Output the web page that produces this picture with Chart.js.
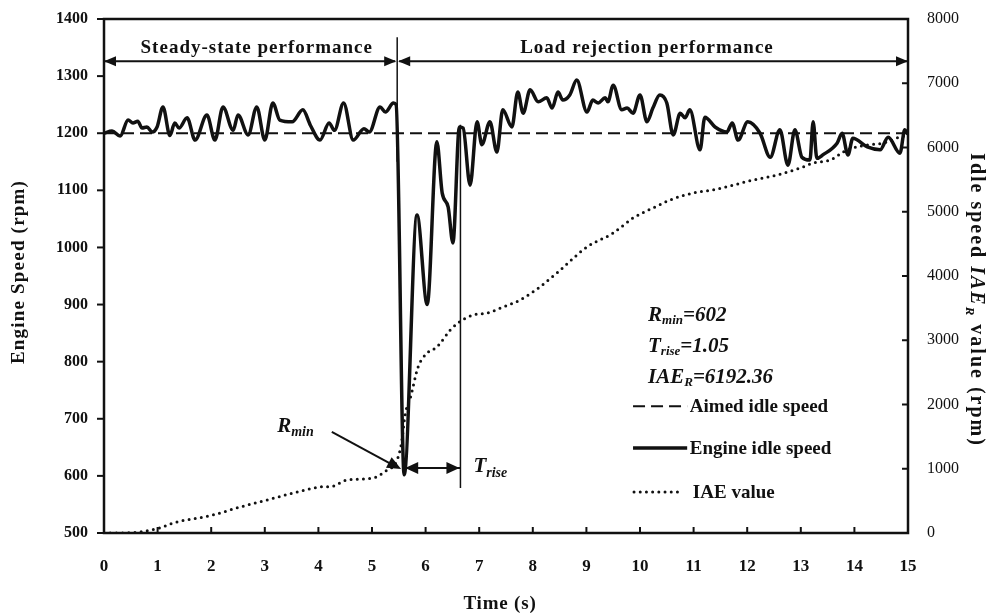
<!DOCTYPE html>
<html>
<head>
<meta charset="utf-8">
<script src="https://cdn.jsdelivr.net/npm/chart.js@4.4.1/dist/chart.umd.min.js"></script>
<style>
  html, body { margin: 0; padding: 0; background: #fff; }
</style>
</head>
<body>
<canvas id="chart" width="996" height="616"></canvas>
<script>
// engine idle speed (rpm) over time (s)
const engineTime = [0, 0.15, 0.3, 0.45, 0.54, 0.63, 0.71, 0.8, 0.9, 0.99, 1.1, 1.23, 1.32, 1.4, 1.55, 1.7, 1.92, 2.07, 2.22, 2.41, 2.5, 2.69, 2.85, 3.0, 3.15, 3.28, 3.51, 3.71, 3.85, 4.03, 4.2, 4.3, 4.47, 4.65, 4.85, 4.95, 5.15, 5.25, 5.4, 5.45,
  5.6, 5.84, 6.03, 6.21, 6.31, 6.42, 6.51, 6.63, 6.7, 6.83, 6.96, 7.05, 7.2, 7.33, 7.44, 7.61, 7.72, 7.82, 7.95, 8.1, 8.26, 8.36, 8.47, 8.56, 8.69, 8.82, 9.01, 9.12, 9.22, 9.35, 9.4, 9.5, 9.66, 9.76, 9.87, 10.0,
  10.13, 10.24, 10.37, 10.5, 10.62, 10.75, 10.84, 10.93, 11.12, 11.21, 11.4, 11.62, 11.72, 11.83, 12.01, 12.24, 12.43, 12.61, 12.76, 12.89, 13.02, 13.17, 13.23, 13.3, 13.41, 13.68, 13.77, 13.88, 13.97, 14.24, 14.48, 14.63, 14.85, 14.94, 15.0]
const engineRpm = [1200, 1204, 1195, 1223, 1218, 1221, 1209, 1211, 1202, 1211, 1246, 1196, 1218, 1209, 1227, 1188, 1232, 1188, 1246, 1205, 1232, 1197, 1246, 1188, 1253, 1223, 1220, 1241, 1214, 1188, 1218, 1205, 1253, 1188, 1208, 1202, 1246, 1237, 1253, 1250,
  602, 1057, 900, 1185, 1095, 1071, 1008, 1211, 1209, 1109, 1220, 1180, 1220, 1167, 1241, 1211, 1272, 1235, 1276, 1255, 1262, 1244, 1272, 1258, 1267, 1293, 1237, 1258, 1253, 1262, 1255, 1284, 1241, 1244, 1235, 1267,
  1220, 1244, 1267, 1253, 1197, 1235, 1227, 1241, 1171, 1228, 1211, 1202, 1218, 1188, 1220, 1200, 1158, 1206, 1144, 1206, 1158, 1153, 1220, 1156, 1162, 1183, 1200, 1162, 1191, 1176, 1171, 1193, 1165, 1206, 1198]

// aimed idle speed
const aimedTime = [0, 15]
const aimedRpm = [1200, 1200]

// accumulated IAE value (right axis)
const iaeTime = [0, 0.35, 1.04, 1.29, 2.03, 2.54, 3.04, 3.53, 4.03, 4.27, 4.53, 5.02, 5.28, 5.45, 5.55, 5.62, 5.72, 5.86, 6.03, 6.21, 6.46, 6.6, 6.88, 7.15, 7.44, 7.76, 8.13, 8.45,
  9.01, 9.5, 9.87, 10.24, 10.56, 10.99, 11.36, 11.74, 12.11, 12.56, 12.99, 13.23, 13.55, 13.86, 14.24, 14.54, 14.85, 15]
const iaeValue = [0, 0, 78, 156, 280, 405, 514, 623, 716, 730, 825, 856, 980, 1100, 1400, 1850, 2117, 2584, 2802, 2895, 3160, 3268, 3393, 3424, 3517, 3626, 3829, 4047,
  4451, 4669, 4903, 5058, 5183, 5292, 5339, 5416, 5494, 5572, 5681, 5759, 5805, 5961, 6039, 6070, 6163, 6192.36]

// summary figures
const rMin = 602
const tRise = 1.05
const iaeR = 6192.36
const rMinTime = 5.6
const splitTime = 5.47

const ink = '#111'
const serif = '"Liberation Serif", "Times New Roman", serif'

const pts = (xs, ys) => xs.map((x, i) => ({ x: x, y: ys[i] }))

function line(ctx, x1, y1, x2, y2) {
  ctx.beginPath()
  ctx.moveTo(x1, y1)
  ctx.lineTo(x2, y2)
  ctx.stroke()
}

function head(ctx, x, y, ang, len, hw) {
  ctx.save()
  ctx.translate(x, y)
  ctx.rotate(ang)
  ctx.beginPath()
  ctx.moveTo(0, 0)
  ctx.lineTo(-len, -hw)
  ctx.lineTo(-len, hw)
  ctx.closePath()
  ctx.fill()
  ctx.restore()
}

// draws runs of text with their own fonts / baseline shifts
function rich(ctx, x, y, parts, align) {
  let w = 0
  parts.forEach(p => { ctx.font = p[1]; w += ctx.measureText(p[0]).width })
  let cx = align === 'center' ? x - w / 2 : x
  parts.forEach(p => {
    ctx.font = p[1]
    ctx.fillText(p[0], cx, y + (p[2] || 0))
    cx += ctx.measureText(p[0]).width
  })
}

const B = 'bold 19px ' + serif
const BI = 'italic bold 21px ' + serif
const BIs = 'italic bold 13px ' + serif

const decor = {
  id: 'decor',
  afterDatasetsDraw(chart) {
    const { ctx, chartArea: a, scales } = chart
    const X = v => scales.x.getPixelForValue(v)
    const Y = v => scales.y.getPixelForValue(v)
    const Y2 = v => scales.y2.getPixelForValue(v)
    ctx.save()
    ctx.strokeStyle = ink
    ctx.fillStyle = ink
    ctx.lineCap = 'butt'

    // frame
    ctx.lineWidth = 2.5
    ctx.strokeRect(a.left, a.top, a.right - a.left, a.bottom - a.top)

    // tick marks
    ctx.lineWidth = 2
    for (let v = 500; v <= 1400; v += 100) line(ctx, a.left - 7, Y(v), a.left, Y(v))
    for (let t = 1; t < 15; t++) line(ctx, X(t), a.bottom, X(t), a.bottom - 6)
    for (let v = 1000; v < 8000; v += 1000) line(ctx, a.right - 6, Y2(v), a.right, Y2(v))

    // section banner
    const by = Y(1326)
    ctx.lineWidth = 2
    line(ctx, a.left, by, X(splitTime) - 2, by)
    line(ctx, X(splitTime) + 2, by, a.right, by)
    head(ctx, a.left, by, Math.PI, 12, 5)
    head(ctx, X(splitTime) - 1, by, 0, 12, 5)
    head(ctx, X(splitTime) + 1, by, Math.PI, 12, 5)
    head(ctx, a.right, by, 0, 12, 5)
    ctx.lineWidth = 1.5
    line(ctx, X(splitTime), Y(1368), X(splitTime), Y(1150))
    ctx.textAlign = 'left'
    ctx.textBaseline = 'alphabetic'
    ctx.letterSpacing = '1px'
    rich(ctx, X(2.85), by - 8, [['Steady-state performance', B]], 'center')
    rich(ctx, X(10.13), by - 8, [['Load rejection performance', B]], 'center')
    ctx.letterSpacing = '0px'

    // R_min pointer
    ctx.lineWidth = 2
    const ax = X(rMinTime) - 3, ay = Y(rMin + 10)
    line(ctx, X(4.25), Y(677), ax - 8, ay - 4)
    head(ctx, ax, ay, Math.atan2(ay - Y(677), ax - X(4.25)), 14, 6)
    rich(ctx, X(3.23), Y(676), [['R', 'italic bold 21px ' + serif], ['min', 'italic bold 14px ' + serif, 4]])

    // T_rise span
    const ry = Y(614)
    ctx.lineWidth = 1.5
    line(ctx, X(rMinTime + tRise), Y(1215), X(rMinTime + tRise), Y(579))
    ctx.lineWidth = 2
    line(ctx, X(rMinTime), ry, X(rMinTime + tRise), ry)
    head(ctx, X(rMinTime) + 1, ry, Math.PI, 13, 6)
    head(ctx, X(rMinTime + tRise) - 1, ry, 0, 13, 6)
    rich(ctx, X(rMinTime + tRise) + 13, ry + 4, [['T', 'italic bold 21px ' + serif], ['rise', 'italic bold 14px ' + serif, 5]])

    // summary text
    const sx = X(10.15)
    rich(ctx, sx, Y(871), [['R', BI], ['min', BIs, 3], ['=' + rMin, BI]])
    rich(ctx, sx, Y(817), [['T', BI], ['rise', BIs, 3], ['=' + tRise.toFixed(2), BI]])
    rich(ctx, sx, Y(763), [['IAE', BI], ['R', BIs, 3], ['=' + iaeR.toFixed(2), BI]])

    // legend
    const lx0 = X(9.87), lx1 = X(10.88), tx = X(10.93)
    ctx.lineWidth = 2
    ctx.setLineDash([12, 6])
    line(ctx, lx0, Y(722), lx1, Y(722))
    ctx.setLineDash([])
    ctx.lineWidth = 3.5
    line(ctx, lx0, Y(649), lx1, Y(649))
    ctx.lineWidth = 3
    ctx.lineCap = 'round'
    ctx.setLineDash([0, 6.2])
    line(ctx, lx0 + 1, Y(572), lx1 - 4, Y(572))
    ctx.setLineDash([])
    ctx.lineCap = 'butt'
    rich(ctx, tx, Y(722) + 6, [['Aimed idle speed', B]])
    rich(ctx, tx, Y(649) + 6, [['Engine idle speed', B]])
    rich(ctx, tx + 3, Y(572) + 6, [['IAE value', B]])

    // axis titles
    const T = 'bold 19px ' + serif
    ctx.letterSpacing = '0.8px'
    rich(ctx, 500, 609, [['Time (s)', T]], 'center')
    ctx.save()
    ctx.translate(24, 272)
    ctx.rotate(-Math.PI / 2)
    ctx.letterSpacing = '1.2px'
    rich(ctx, 0, 0, [['Engine Speed (rpm)', T]], 'center')
    ctx.restore()
    ctx.save()
    ctx.translate(971, 300)
    ctx.rotate(Math.PI / 2)
    ctx.letterSpacing = '2px'
    rich(ctx, 0, 0, [['Idle speed ', 'bold 20px ' + serif], ['IAE', 'italic bold 20px ' + serif], ['R', 'italic bold 13px ' + serif, 5], [' value (rpm)', 'bold 20px ' + serif]], 'center')
    ctx.restore()
    ctx.restore()
  }
}

// fixed axis band sizes; label overflow padding is dropped so the plot frame sits where we want it
const fit = (w, h) => scale => {
  if (w) scale.width = w
  if (h) scale.height = h
  scale.paddingTop = 0
  scale.paddingBottom = 0
  scale.paddingLeft = 0
  scale.paddingRight = 0
}

const plain = v => String(v)

new Chart(document.getElementById('chart'), {
  type: 'line',
  data: {
    datasets: [
      {
        label: 'Aimed idle speed',
        data: pts(aimedTime, aimedRpm),
        yAxisID: 'y',
        borderColor: ink,
        borderWidth: 2,
        borderDash: [12, 6],
        pointRadius: 0
      },
      {
        label: 'Engine idle speed',
        data: pts(engineTime, engineRpm),
        yAxisID: 'y',
        borderColor: ink,
        borderWidth: 3.5,
        cubicInterpolationMode: 'monotone',
        pointRadius: 0
      },
      {
        label: 'IAE value',
        data: pts(iaeTime, iaeValue),
        yAxisID: 'y2',
        borderColor: ink,
        borderWidth: 3,
        borderDash: [0, 6.2],
        borderCapStyle: 'round',
        cubicInterpolationMode: 'monotone',
        pointRadius: 0
      }
    ]
  },
  options: {
    responsive: false,
    animation: false,
    layout: { padding: { top: 19, left: 0, right: 0, bottom: 0 } },
    plugins: { legend: { display: false }, tooltip: { enabled: false } },
    scales: {
      x: {
        type: 'linear', min: 0, max: 15,
        grid: { display: false, drawTicks: false },
        border: { display: false },
        ticks: { stepSize: 1, padding: 23, color: ink, callback: plain, font: { family: serif, size: 17, weight: 'bold' } },
        afterFit: fit(0, 83)
      },
      y: {
        position: 'left', min: 500, max: 1400,
        grid: { display: false, drawTicks: false },
        border: { display: false },
        ticks: { stepSize: 100, padding: 16, color: ink, callback: plain, font: { family: serif, size: 16, weight: 'bold' } },
        afterFit: fit(104, 0)
      },
      y2: {
        position: 'right', min: 0, max: 8000,
        grid: { display: false, drawTicks: false },
        border: { display: false },
        ticks: { stepSize: 1000, padding: 19, color: ink, callback: plain, font: { family: serif, size: 16 } },
        afterFit: fit(88, 0)
      }
    }
  },
  plugins: [decor]
})
</script>
</body>
</html>
